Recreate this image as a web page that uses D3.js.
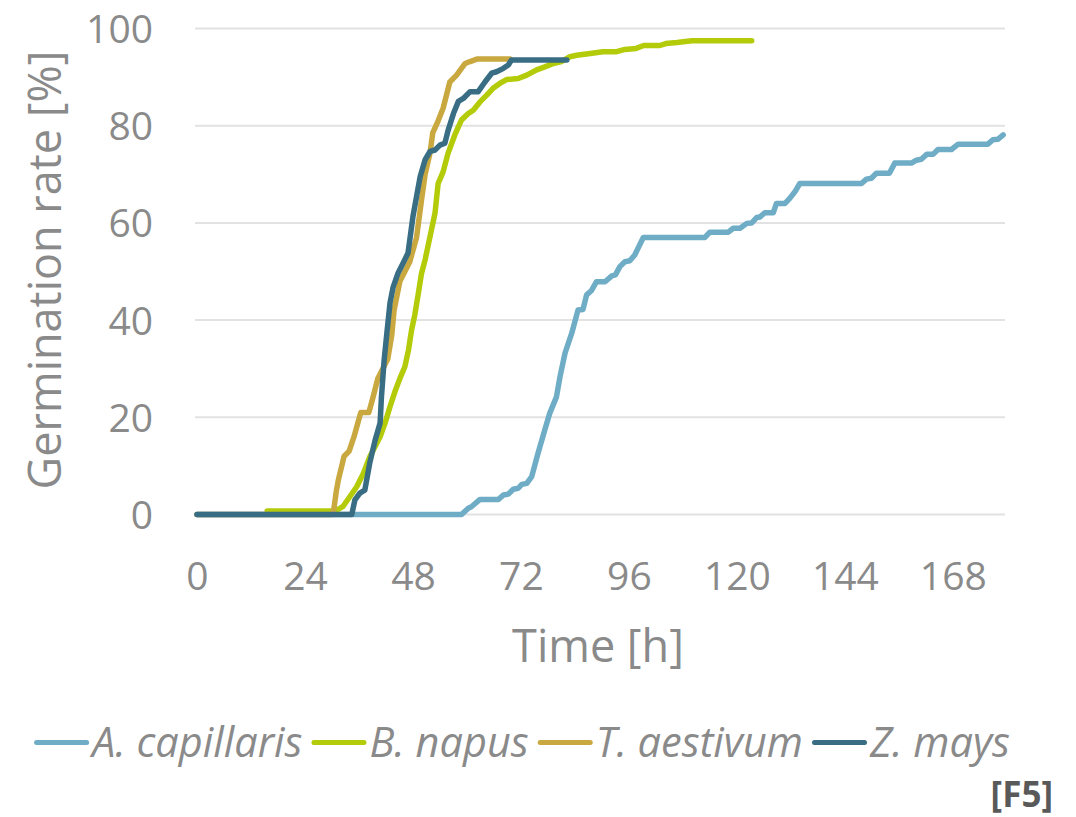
<!DOCTYPE html>
<html lang="en">
<head>
    <meta charset="utf-8">
    <script src="https://d3js.org/d3.v7.min.js"></script>
    <style>
        body { margin: 0; background: #fff; }
        text { font-family: "Open Sans", "Noto Sans", sans-serif; }
    </style>
</head>
<body>
<script type="text/javascript">

    // time [h] / germination rate [%]
    let capillarisT = [0, 58.8, 60.3, 61, 62.9, 67, 68.1, 69.2, 70.3, 71.4, 72.2, 73.3, 74.4, 75.8, 77.3, 78.4, 79.9, 80.7, 81.8, 83.3, 84.7, 85.8, 86.6, 87.7, 88.8, 90.7, 92.2, 93, 94, 95.1, 96.2, 97.3, 99.2, 112.9, 114, 118.1, 119.2, 120.7, 122.2, 123.3, 124.4, 125.1, 126.2, 128.1, 128.8, 130.7, 131.8, 132.9, 134, 147.7, 148.8, 149.9, 151, 153.9, 155.1, 158.8, 159.9, 161, 162.2, 163.6, 164.7, 167.7, 169.2, 175.8, 176.9, 178, 179.2];
    let capillarisV = [0, 0, 1.3, 1.6, 3.1, 3.1, 4, 4.2, 5.2, 5.4, 6.2, 6.4, 7.8, 12.6, 17.4, 20.8, 24.2, 28.4, 33.2, 37.3, 42.1, 42.2, 45.2, 46.1, 47.9, 47.9, 49.1, 49.3, 51, 52, 52.2, 53.4, 57, 57, 58.1, 58.1, 58.9, 58.9, 59.9, 60, 61.1, 61.2, 62.1, 62.1, 64, 64, 65.1, 66.4, 68.1, 68.1, 69, 69.2, 70.2, 70.2, 72.3, 72.3, 72.9, 73.1, 74.1, 74.1, 75.1, 75.1, 76.2, 76.2, 77.1, 77.2, 78.1];

    let napusT = [15.6, 30.7, 32.4, 34, 35.5, 37, 38.4, 39.6, 40.7, 41.8, 42.9, 44, 45.1, 46.2, 47, 47.7, 48.4, 49.2, 49.9, 50.7, 51.8, 52.9, 53.6, 54.7, 55.8, 57.3, 58.8, 60.3, 61.4, 62.9, 64.4, 65.8, 67.3, 68.8, 71.4, 73.3, 75.5, 77.3, 79.2, 81, 82.9, 84.4, 87.8, 90.2, 93.1, 95.1, 97.6, 99.3, 102.9, 104.2, 106.7, 110, 123.3];
    let napusV = [0.7, 0.7, 1.6, 3.7, 5.7, 8.5, 11.9, 14, 16, 18.8, 22.2, 25.3, 28, 30.4, 33.8, 38, 41, 45.5, 49.6, 52.4, 57.2, 62, 68.1, 70.5, 74.3, 78.1, 81.2, 82.5, 83.2, 84.9, 86.3, 87.7, 88.7, 89.5, 89.7, 90.4, 91.5, 92.1, 92.8, 93.2, 94.2, 94.5, 94.9, 95.2, 95.2, 95.7, 95.9, 96.5, 96.5, 96.9, 97.1, 97.5, 97.5];

    let aestivumT = [0, 30, 30.4, 31, 31.4, 32.7, 33.8, 34.9, 36.4, 38.2, 39.1, 40.2, 41.3, 42.4, 43.3, 43.8, 45.1, 46.2, 47.3, 48.8, 49.9, 50.7, 51.8, 52.4, 53.6, 54.7, 56.2, 57.7, 59.6, 60.7, 62.2, 69.6];
    let aestivumV = [0, 0, 1, 5, 7, 12, 13, 16, 21, 21, 24, 28, 30, 32, 37, 42, 48, 50, 52, 57, 64.7, 70, 74.4, 78.5, 81, 83.6, 89, 90.4, 92.8, 93.2, 93.7, 93.7];

    let maysT = [0, 34.4, 35.1, 36.2, 37.3, 38.4, 39.6, 40.7, 41, 41.6, 42.2, 42.9, 43.6, 44.7, 45.8, 46.9, 48, 49.6, 50.7, 51.8, 52.9, 54, 55.1, 55.8, 57, 58.1, 59.2, 60.7, 62.5, 64, 65.5, 66.6, 68.1, 69.2, 69.9, 82.2];
    let maysV = [0, 0, 3, 4.4, 5, 10.6, 15.3, 18.8, 24.2, 31.8, 37.3, 43.5, 46.8, 49.7, 51.7, 53.8, 61.3, 69.5, 73, 74.7, 75, 76, 76.4, 79, 82.5, 85, 85.6, 87, 87, 89, 90.8, 91.1, 91.8, 92.5, 93.5, 93.5];

    let seriesNames = ["A. capillaris", "B. napus", "T. aestivum", "Z. mays"];
    let seriesColors = ["#6facc6", "#b3cb08", "#c8a83f", "#386d83"];
    let xTicks = [0, 24, 48, 72, 96, 120, 144, 168];
    let yTicks = [0, 20, 40, 60, 80, 100];

    let w = 1076;
    let h = 817;
    let textColor = "#8a8a8a";

    let svg = d3.select("body").append("svg")
                .attr("width", w)
                .attr("height", h);

    let x = d3.scaleLinear().domain([0, 179.6]).range([197, 1005]);
    let y = d3.scaleLinear().domain([0, 100]).range([514.5, 28.5]);

    // gridlines
    svg.append("g")
        .selectAll("line")
        .data(yTicks)
        .join("line")
            .attr("x1", 195)
            .attr("x2", 1005)
            .attr("y1", function(d) { return y(d); })
            .attr("y2", function(d) { return y(d); })
            .attr("stroke", "#e2e2e2")
            .attr("stroke-width", 2);

    // y axis
    let yAxis = svg.append("g")
        .attr("transform", "translate(153,0)")
        .call(d3.axisLeft(y).tickValues(yTicks).tickSize(0).tickPadding(0));
    yAxis.select(".domain").remove();
    yAxis.selectAll("text")
        .attr("fill", textColor)
        .style("font-size", "39px")
        .attr("dy", "0.36em");

    // x axis
    let xAxis = svg.append("g")
        .attr("transform", "translate(0,562)")
        .call(d3.axisBottom(x).tickValues(xTicks).tickSize(0).tickPadding(0));
    xAxis.select(".domain").remove();
    xAxis.selectAll("text")
        .attr("fill", textColor)
        .style("font-size", "39px")
        .attr("dy", "0.72em");

    // axis titles
    svg.append("text")
        .attr("x", 598)
        .attr("y", 662)
        .attr("text-anchor", "middle")
        .attr("fill", textColor)
        .style("font-size", "45px")
        .text("Time [h]");

    svg.append("text")
        .attr("transform", "translate(61,270) rotate(-90)")
        .attr("text-anchor", "middle")
        .attr("fill", textColor)
        .style("font-size", "45px")
        .text("Germination rate [%]");

    // lines
    let allT = [capillarisT, napusT, aestivumT, maysT];
    let allV = [capillarisV, napusV, aestivumV, maysV];

    let line = d3.line()
        .x(function(d) { return x(d[0]); })
        .y(function(d) { return y(d[1]); });

    svg.append("g")
        .selectAll("path")
        .data(seriesNames)
        .join("path")
            .attr("d", function(d, i) {
                return line(d3.zip(allT[i], allV[i]));
            })
            .attr("fill", "none")
            .attr("stroke", function(d, i) { return seriesColors[i]; })
            .attr("stroke-width", 5.5)
            .attr("stroke-linejoin", "round")
            .attr("stroke-linecap", "round");

    // legend
    let legend = svg.append("g");
    let items = legend.selectAll("g")
        .data(seriesNames)
        .join("g");

    items.append("line")
        .attr("x1", 2.5)
        .attr("x2", 52.5)
        .attr("y1", 742.5)
        .attr("y2", 742.5)
        .attr("stroke", function(d, i) { return seriesColors[i]; })
        .attr("stroke-width", 5)
        .attr("stroke-linecap", "round");

    items.append("text")
        .attr("x", 58)
        .attr("y", 757)
        .attr("fill", textColor)
        .style("font-size", "41.5px")
        .style("font-style", "italic")
        .text(function(d) { return d; });

    let widths = [];
    items.each(function() {
        widths.push(58 + d3.select(this).select("text").node().getComputedTextLength());
    });
    let gap = 9;
    let total = d3.sum(widths) + gap * (widths.length - 1);
    let pos = 522 - total / 2;
    items.attr("transform", function(d, i) {
        let p = pos;
        pos += widths[i] + gap;
        return "translate(" + p + ",0)";
    });

    // figure tag
    svg.append("text")
        .attr("x", 1053)
        .attr("y", 807)
        .attr("text-anchor", "end")
        .attr("fill", "#595959")
        .style("font-size", "35px")
        .style("font-weight", "bold")
        .text("[F5]");

</script>
</body>
</html>
